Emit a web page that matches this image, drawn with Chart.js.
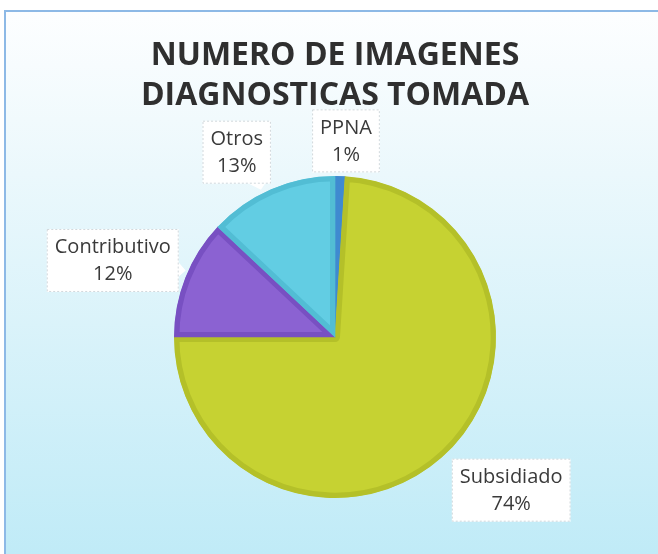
<!DOCTYPE html>
<html><head><meta charset="utf-8">
<script src="https://cdn.jsdelivr.net/npm/chart.js@4.4.1/dist/chart.umd.min.js"></script>
<style>html,body{margin:0;padding:0;background:#fff;}#wrap{width:658px;height:554px;position:relative}</style>
</head><body><div id="wrap"><canvas id="c" width="658" height="554"></canvas></div>
<script>
const categories = ['PPNA', 'Subsidiado', 'Contributivo', 'Otros'];
const values = [1, 74, 12, 13];
const percentLabels = ['1%', '74%', '12%', '13%'];
const titleLines = ['NUMERO DE IMAGENES', 'DIAGNOSTICAS TOMADA'];

const sliceColors = ['#4b9be0', '#c6d232', '#8b62d2', '#62cde3'];
const sliceBorders = ['#3f8ad0', '#b4c029', '#7850c2', '#52bdd4'];
// label placement: radius factor, angle shift (deg), pointer side
const labelPlace = [
  {f: 1.22, s: 1.4, ptr: null},
  {f: 1.45, s: -5.8, ptr: null},
  {f: 1.46, s: -2.6, ptr: 'right'},
  {f: 1.30, s: -4.6, ptr: 'bottom'}
];

const bgPlugin = {
  id: 'bg',
  beforeDraw(chart) {
    const {ctx, width, height} = chart;
    ctx.save();
    ctx.fillStyle = '#ffffff';
    ctx.fillRect(0, 0, width, height);
    const g = ctx.createLinearGradient(0, 11, 0, height);
    g.addColorStop(0, '#fdfeff');
    g.addColorStop(0.3, '#ebf8fc');
    g.addColorStop(1, '#c0ebf7');
    ctx.fillStyle = g;
    ctx.fillRect(5, 11, width - 5, height - 11);
    ctx.strokeStyle = '#8db9e6';
    ctx.lineWidth = 2;
    ctx.beginPath();
    ctx.moveTo(5, height);
    ctx.lineTo(5, 11);
    ctx.lineTo(width, 11);
    ctx.stroke();
    ctx.restore();
  }
};

const labelPlugin = {
  id: 'sliceLabels',
  afterDatasetsDraw(chart) {
    const {ctx} = chart;
    const meta = chart.getDatasetMeta(0);
    ctx.save();
    ctx.font = '20px "Open Sans", Lato, sans-serif';
    ctx.textAlign = 'center';
    ctx.textBaseline = 'middle';
    meta.data.forEach((arc, i) => {
      const p = arc.getProps(['x', 'y', 'startAngle', 'endAngle', 'outerRadius'], true);
      const place = labelPlace[i];
      const mid = (p.startAngle + p.endAngle) / 2 + place.s * Math.PI / 180;
      const cx = p.x + Math.cos(mid) * p.outerRadius * place.f;
      const cy = p.y + Math.sin(mid) * p.outerRadius * place.f;
      const l1 = categories[i], l2 = percentLabels[i];
      const w = Math.max(ctx.measureText(l1).width, ctx.measureText(l2).width) + 16;
      const h = 63;
      const x0 = cx - w / 2, y0 = cy - h / 2;
      ctx.fillStyle = '#ffffff';
      ctx.beginPath();
      ctx.rect(x0, y0, w, h);
      if (place.ptr === 'right') {
        ctx.moveTo(x0 + w, cy + 2);
        ctx.lineTo(x0 + w + 7, cy + 10);
        ctx.lineTo(x0 + w, cy + 16);
      } else if (place.ptr === 'bottom') {
        ctx.moveTo(x0 + w - 22, y0 + h);
        ctx.lineTo(x0 + w - 10, y0 + h + 6);
        ctx.lineTo(x0 + w - 6, y0 + h);
      }
      ctx.fill();
      ctx.strokeStyle = 'rgba(190,200,205,0.7)';
      ctx.lineWidth = 1;
      ctx.setLineDash([2, 2]);
      ctx.strokeRect(x0 + 0.5, y0 + 0.5, w - 1, h - 1);
      ctx.setLineDash([]);
      ctx.fillStyle = '#3a3a3a';
      ctx.fillText(l1, cx, cy - 13);
      ctx.fillText(l2, cx, cy + 14);
    });
    ctx.restore();
  }
};

new Chart(document.getElementById('c'), {
  type: 'pie',
  data: {
    labels: categories,
    datasets: [{
      data: values,
      backgroundColor: sliceColors,
      borderColor: sliceBorders,
      borderWidth: 5,
      borderAlign: 'inner'
    }]
  },
  options: {
    responsive: false,
    animation: false,
    devicePixelRatio: 1,
    layout: {padding: {left: 12, right: 0, top: 10, bottom: 56}},
    plugins: {
      legend: {display: false},
      tooltip: {enabled: false},
      title: {
        display: true,
        text: titleLines,
        color: '#2f2f2f',
        font: {family: '"Open Sans", "Liberation Sans", sans-serif', size: 32, weight: 'bold', lineHeight: 40 / 32},
        padding: {top: 26, bottom: 60}
      }
    }
  },
  plugins: [bgPlugin, labelPlugin]
});
</script>
</body></html>
